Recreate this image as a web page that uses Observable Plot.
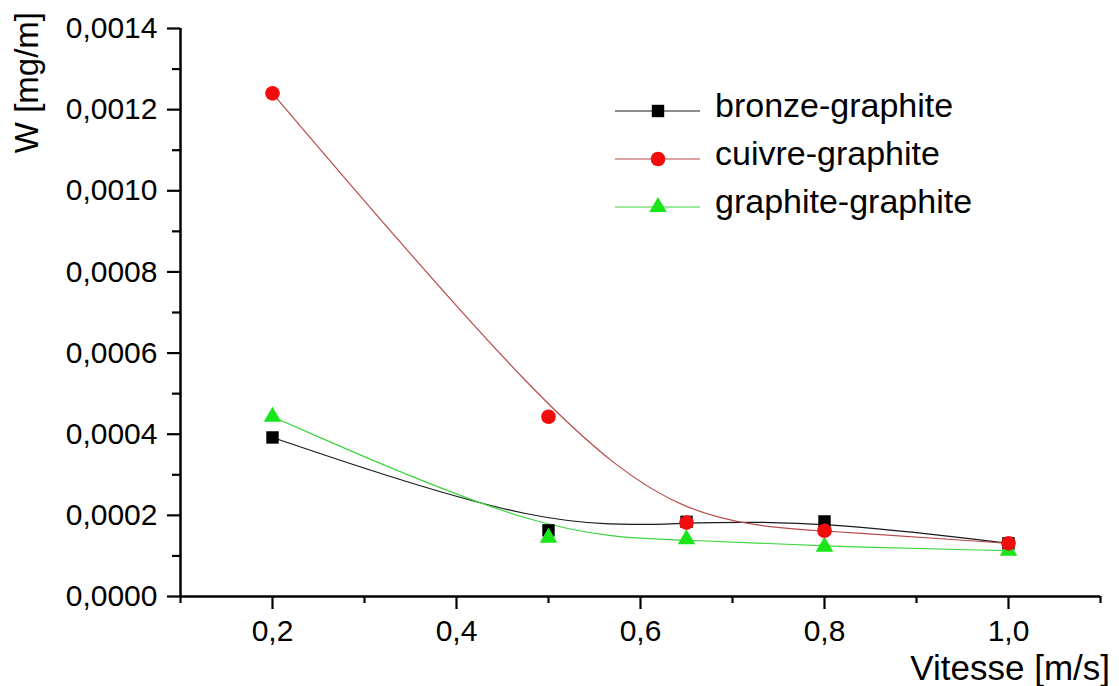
<!DOCTYPE html>
<html><head><meta charset="utf-8">
<script src="https://cdn.jsdelivr.net/npm/d3@7"></script>
<script src="https://cdn.jsdelivr.net/npm/@observablehq/plot@0.6"></script>
<style>
body{margin:0;background:#fff}
#chart{position:relative;width:1119px;height:686px}
</style>
</head><body><div id="chart"></div>
<script>
// Data
const vitesse = [0.2, 0.5, 0.65, 0.8, 1.0];
const bronzeGraphite = [0.000392, 0.000163, 0.000184, 0.000185, 0.000131];
const cuivreGraphite = [0.00124, 0.000443, 0.000182, 0.000162, 0.000131];
const graphiteGraphite = [0.000443, 0.000145, 0.000141, 0.000123, 0.000113];
const seriesNames = ["bronze-graphite", "cuivre-graphite", "graphite-graphite"];
const xMajorTicks = [0.2, 0.4, 0.6, 0.8, 1.0];
const xMinorTicks = [0.1, 0.3, 0.5, 0.7, 0.9, 1.1];
const yMajorTicks = [0, 0.0002, 0.0004, 0.0006, 0.0008, 0.0010, 0.0012, 0.0014];
const yMinorTicks = [0.0001, 0.0003, 0.0005, 0.0007, 0.0009, 0.0011, 0.0013];
const xLabel = "Vitesse [m/s]";
const yLabel = "W [mg/m]";

const styles = {
  "bronze-graphite": {line: "#1a1a1a", fill: "#000000", symbol: "square", r: 7},
  "cuivre-graphite": {line: "#b84a4a", fill: "#f20d0d", symbol: "circle", r: 7.3},
  "graphite-graphite": {line: "#3fd43f", fill: "#19e619", symbol: "triangle", r: 6.5}
};

const seriesValues = [bronzeGraphite, cuivreGraphite, graphiteGraphite];
const rows = seriesNames.map((s, k) => vitesse.map((v, i) => ({v, w: seriesValues[k][i], s})));

const FONT = "'Liberation Sans', Arial, sans-serif";
const comma = (f) => (d) => d3.format(f)(d).replace(".", ",");

const lineMarks = rows.map((r, k) => Plot.line(r, {
  x: "v", y: "w", curve: "basis",
  stroke: styles[seriesNames[k]].line, strokeWidth: 1.2
}));
const dotOrder = [0, 2, 1];
const dotMarks = dotOrder.map(k => Plot.dot(rows[k], {
  x: "v", y: "w", symbol: styles[seriesNames[k]].symbol,
  r: styles[seriesNames[k]].r, fill: styles[seriesNames[k]].fill, stroke: "none"
}));

const plot = Plot.plot({
  width: 1119, height: 686,
  marginLeft: 180, marginRight: 19, marginTop: 28, marginBottom: 90,
  style: {fontFamily: FONT, color: "#000", background: "#fff", overflow: "visible"},
  x: {domain: [0.1, 1.1]},
  y: {domain: [0, 0.0014]},
  marks: [
    Plot.axisX({ticks: xMajorTicks, tickSize: 13, tickPadding: 10, tickFormat: comma(".1f"),
      fontSize: 30, strokeWidth: 2.2, label: null}),
    Plot.axisX({ticks: xMinorTicks, tickSize: 7, tickFormat: () => "", strokeWidth: 2.2, label: null}),
    Plot.axisY({ticks: yMajorTicks, tickSize: 13, tickPadding: 10, tickFormat: comma(".4f"),
      fontSize: 30, strokeWidth: 2.2, label: null}),
    Plot.axisY({ticks: yMinorTicks, tickSize: 8, tickFormat: () => "", strokeWidth: 2.2, label: null}),
    Plot.ruleX([0.1], {strokeWidth: 2.5, stroke: "#000"}),
    Plot.ruleY([0], {strokeWidth: 2.5, stroke: "#000"}),
    ...lineMarks,
    ...dotMarks
  ]
});

const svg = d3.select(plot);
// Axis titles
svg.append("text")
  .attr("transform", "translate(38,12) rotate(-90)")
  .attr("text-anchor", "end")
  .attr("font-family", FONT).attr("font-size", 33).attr("fill", "#000")
  .text(yLabel);
svg.append("text")
  .attr("x", 1110).attr("y", 680)
  .attr("text-anchor", "end")
  .attr("font-family", FONT).attr("font-size", 35).attr("fill", "#000")
  .text(xLabel);

// Legend
const symGen = (name, r) => {
  const map = {square: d3.symbolSquare, circle: d3.symbolCircle, triangle: d3.symbolTriangle};
  return d3.symbol(map[name], Math.PI * r * r)();
};
const legend = svg.append("g");
seriesNames.forEach((name, i) => {
  const st = styles[name];
  const g = legend.append("g").attr("transform", `translate(0,${111 + i * 48})`);
  g.append("line").attr("x1", 615).attr("x2", 700).attr("y1", 0).attr("y2", 0)
    .attr("stroke", st.line).attr("stroke-width", 1.2);
  g.append("path").attr("d", symGen(st.symbol, st.r)).attr("transform", "translate(658,0)")
    .attr("fill", st.fill);
  g.append("text").attr("x", 715).attr("y", 6)
    .attr("text-anchor", "start")
    .attr("font-family", FONT).attr("font-size", 34).attr("fill", "#000")
    .text(name);
});

document.getElementById("chart").appendChild(plot);
</script>
</body></html>
